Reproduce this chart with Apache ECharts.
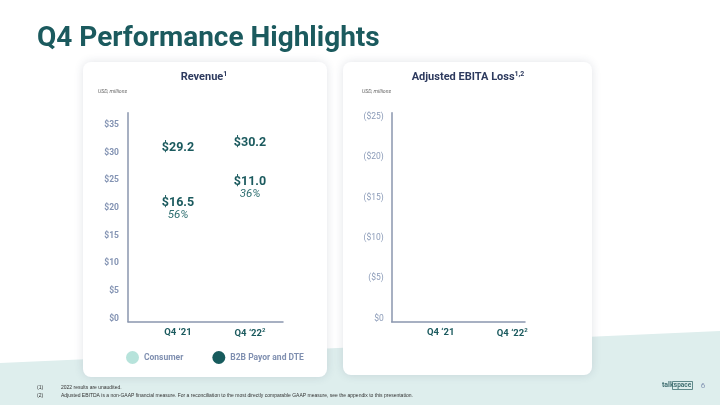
<!DOCTYPE html>
<html><head><meta charset="utf-8">
<script src="https://cdn.jsdelivr.net/npm/echarts@6/dist/echarts.min.js"></script>
<style>html,body{margin:0;padding:0;background:#fff}#c{width:720px;height:405px}</style>
</head><body><div id="c"></div>
<script>
// ---- data ----
const categories = ["Q4 \u201821", "Q4 \u201822"];
const consumer = [12.7, 19.2];
const b2b = [16.5, 11.0];
const b2bShare = ["56%", "36%"];
const totals = [29.2, 30.2];
const revTicks = [0, 5, 10, 15, 20, 25, 30, 35];
const ebitaTicks = [0, 5, 10, 15, 20, 25];

const TEAL = '#1b5a5e', NAVY = '#2d3a5e', AX = '#8393b3', FONT = 'Roboto';
const chart = echarts.init(document.getElementById('c'));

function catFmt(v, i) { return i === 1 ? '{a|' + v + '}{s|2}' : '{a|' + v + '}'; }
const catRich = {
  a: { fontFamily: FONT, fontWeight: 'bold', fontSize: 9.5, color: TEAL },
  s: { fontFamily: FONT, fontWeight: 'bold', fontSize: 6, color: TEAL, verticalAlign: 'top', padding: [0, 0, 5, 0] }
};

chart.setOption({
  animation: false,
  textStyle: { fontFamily: FONT },
  graphic: { elements: [
    { type: 'polygon', z: -20, shape: { points: [[0, 363], [720, 331], [720, 405], [0, 405]] }, style: { fill: '#deeeed' } },
    { type: 'rect', z: -10, shape: { x: 83, y: 62, width: 244, height: 315, r: 8 }, style: { fill: '#fff', shadowBlur: 10, shadowColor: 'rgba(40,60,90,0.14)' } },
    { type: 'rect', z: -10, shape: { x: 343, y: 62, width: 249, height: 313, r: 8 }, style: { fill: '#fff', shadowBlur: 10, shadowColor: 'rgba(40,60,90,0.14)' } },
    { type: 'text', x: 37, y: 39, style: { text: 'Q4 Performance Highlights', font: 'bold 28px Roboto', fill: TEAL, verticalAlign: 'middle' } },
    { type: 'text', x: 204, y: 77, style: { text: '{t|Revenue}{s|1}', align: 'center', verticalAlign: 'middle', rich: { t: { font: 'bold 11px Roboto', fill: NAVY }, s: { font: 'bold 7px Roboto', fill: NAVY, verticalAlign: 'top', padding: [0, 0, 5, 0] } } } },
    { type: 'text', x: 468, y: 77, style: { text: '{t|Adjusted EBITA Loss}{s|1,2}', align: 'center', verticalAlign: 'middle', rich: { t: { font: 'bold 11px Roboto', fill: NAVY }, s: { font: 'bold 7px Roboto', fill: NAVY, verticalAlign: 'top', padding: [0, 0, 5, 0] } } } },
    { type: 'text', x: 98, y: 92, style: { text: 'USD, millions', font: 'italic 5.2px Roboto', fill: '#666', verticalAlign: 'middle' } },
    { type: 'text', x: 362, y: 92, style: { text: 'USD, millions', font: 'italic 5.2px Roboto', fill: '#666', verticalAlign: 'middle' } },
    { type: 'text', x: 37, y: 388, style: { text: '(1)', font: '5px "Liberation Sans"', fill: '#333', verticalAlign: 'middle' } },
    { type: 'text', x: 37, y: 395.5, style: { text: '(2)', font: '5px "Liberation Sans"', fill: '#333', verticalAlign: 'middle' } },
    { type: 'text', x: 61, y: 388, style: { text: '2022 results are unaudited.', font: '5px "Liberation Sans"', fill: '#333', verticalAlign: 'middle' } },
    { type: 'text', x: 61, y: 395.5, style: { text: 'Adjusted EBITDA is a non-GAAP financial measure. For a reconciliation to the most directly comparable GAAP measure, see the appendix to this presentation.', font: '5px "Liberation Sans"', fill: '#333', verticalAlign: 'middle' } },
    { type: 'text', x: 662, y: 385.5, style: { text: 'talk', font: 'bold 7px Roboto', fill: '#3f6e70', verticalAlign: 'middle' } },
    { type: 'rect', shape: { x: 672.5, y: 381.5, width: 20, height: 8 }, style: { fill: 'none', stroke: '#3f6e70', lineWidth: 0.8 } },
    { type: 'text', x: 682.5, y: 385.5, style: { text: 'space', font: 'bold 6.5px Roboto', fill: '#3f6e70', align: 'center', verticalAlign: 'middle' } },
    { type: 'text', x: 703, y: 386, style: { text: '6', font: '8px Roboto', fill: AX, align: 'center', verticalAlign: 'middle' } }
  ] },
  legend: {
    left: 126, top: 351, padding: 0, itemWidth: 13, itemHeight: 13, itemGap: 29, icon: 'circle', selectedMode: false,
    textStyle: { fontFamily: FONT, fontWeight: 'bold', fontSize: 8.5, color: '#7f8fb0' },
    data: [
      { name: 'Consumer', itemStyle: { color: '#b7e3db', opacity: 1 } },
      { name: 'B2B Payor and DTE', itemStyle: { color: '#175b5d', opacity: 1 } }
    ]
  },
  grid: [
    { left: 128, top: 112.7, width: 155, height: 209 },
    { left: 142, top: 112.7, width: 144, height: 209 },
    { left: 391.7, top: 112.7, width: 133.3, height: 209 },
    { left: 405, top: 112.7, width: 143, height: 209 }
  ],
  xAxis: [
    { gridIndex: 0, type: 'category', data: categories, axisLine: { lineStyle: { color: '#8a96ae', width: 1.5 } }, axisTick: { show: false }, axisLabel: { show: false } },
    { gridIndex: 1, type: 'category', data: categories, axisLine: { show: false }, axisTick: { show: false }, axisLabel: { interval: 0, hideOverlap: false, margin: 6, formatter: catFmt, rich: catRich } },
    { gridIndex: 2, type: 'category', data: categories, axisLine: { lineStyle: { color: '#8a96ae', width: 1.5 } }, axisTick: { show: false }, axisLabel: { show: false } },
    { gridIndex: 3, type: 'category', data: categories, axisLine: { show: false }, axisTick: { show: false }, axisLabel: { interval: 0, hideOverlap: false, margin: 6, formatter: catFmt, rich: catRich } }
  ],
  yAxis: [
    { gridIndex: 0, type: 'value', min: 0, max: 37.7, interval: 5, splitLine: { show: false },
      axisLine: { show: true, lineStyle: { color: '#8a96ae', width: 1.5 } }, axisTick: { show: false },
      axisLabel: { showMaxLabel: false, margin: 9, fontFamily: FONT, fontWeight: 'bold', fontSize: 8.5, color: AX, verticalAlign: 'bottom', lineHeight: 6,
        formatter: v => revTicks.includes(v) ? '$' + v : '' } },
    { gridIndex: 1, type: 'value', min: 0, max: 37.7, show: false, splitLine: { show: false } },
    { gridIndex: 2, type: 'value', min: 0, max: 25.9, interval: 5, splitLine: { show: false },
      axisLine: { show: true, lineStyle: { color: '#8a96ae', width: 1.5 } }, axisTick: { show: false },
      axisLabel: { showMaxLabel: false, margin: 8, fontFamily: FONT, fontSize: 8.5, color: '#8b9bb8', verticalAlign: 'bottom', lineHeight: 6,
        formatter: v => ebitaTicks.includes(v) ? (v === 0 ? '$0' : '($' + v + ')') : '' } },
    { gridIndex: 3, type: 'value', min: 0, max: 25.9, show: false, splitLine: { show: false } }
  ],
  series: [
    { name: 'Consumer', type: 'bar', xAxisIndex: 1, yAxisIndex: 1, stack: 'rev', barWidth: 40, data: consumer,
      itemStyle: { color: 'rgba(0,0,0,0)' } },
    { name: 'B2B Payor and DTE', type: 'bar', xAxisIndex: 1, yAxisIndex: 1, stack: 'rev', barWidth: 40, data: b2b,
      itemStyle: { color: 'rgba(0,0,0,0)' },
      label: { show: true, position: 'inside', offset: [0, 3], formatter: p => '{v|$' + p.value.toFixed(1) + '}\n{p|' + b2bShare[p.dataIndex] + '}',
        rich: { v: { fontFamily: FONT, fontWeight: 'bold', fontSize: 12.5, color: TEAL, lineHeight: 13 },
                p: { fontFamily: FONT, fontStyle: 'italic', fontSize: 11.5, color: '#2f6f71', lineHeight: 12 } } } },
    { name: 'Total', type: 'scatter', xAxisIndex: 1, yAxisIndex: 1, symbolSize: 0, data: totals,
      itemStyle: { opacity: 1 },
      label: { show: true, position: 'top', distance: 5, opacity: 1, formatter: p => '$' + p.value.toFixed(1),
        fontFamily: FONT, fontWeight: 'bold', fontSize: 12.5, color: TEAL } }
  ]
});
</script></body></html>
